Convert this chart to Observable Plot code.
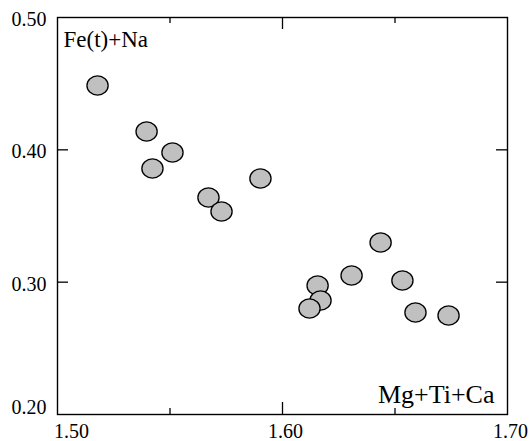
<!DOCTYPE html>
<html>
<head>
<meta charset="utf-8">
<script src="https://cdn.jsdelivr.net/npm/d3@7"></script>
<script src="https://cdn.jsdelivr.net/npm/@observablehq/plot@0.6"></script>
<style>
  html, body { margin: 0; padding: 0; background: #fff; }
  #chart svg { display: block; }
</style>
</head>
<body>
<div id="chart"></div>
<script>
// Data
const xValues = [1.5178, 1.5396, 1.5422, 1.5511, 1.5671, 1.5729, 1.5902, 1.6156, 1.6169, 1.6120, 1.6307, 1.6436, 1.6533, 1.6591, 1.6738];
const yValues = [0.4486, 0.4139, 0.3859, 0.3980, 0.3640, 0.3534, 0.3783, 0.2975, 0.2861, 0.2801, 0.3050, 0.3300, 0.3013, 0.2771, 0.2748];
const xMajorTicks = [1.60];
const xMinorTicks = [1.55, 1.65];
const yTicks = [0.30, 0.40];
const xTickLabels = [1.50, 1.60, 1.70];
const yTickLabels = [0.20, 0.30, 0.40, 0.50];
const xLabel = "Mg+Ti+Ca";
const yLabel = "Fe(t)+Na";

const points = xValues.map((x, i) => ({x, y: yValues[i]}));

const W = 530, H = 441;
const mL = 57, mR = 23, mT = 17, mB = 27;
const innerW = W - mL - mR, innerH = H - mT - mB;

const ellipse = {
  draw(context, size) {
    const r = Math.sqrt(size / Math.PI);
    const rx = r * 1.06, ry = r * 0.96;
    const k = 0.5522847498;
    context.moveTo(rx, 0);
    context.bezierCurveTo(rx, ry * k, rx * k, ry, 0, ry);
    context.bezierCurveTo(-rx * k, ry, -rx, ry * k, -rx, 0);
    context.bezierCurveTo(-rx, -ry * k, -rx * k, -ry, 0, -ry);
    context.bezierCurveTo(rx * k, -ry, rx, -ry * k, rx, 0);
    context.closePath();
  }
};

const fmt = d3.format(".2f");
const font = "'Liberation Serif', 'Times New Roman', serif";

const chart = Plot.plot({
  width: W,
  height: H,
  marginLeft: mL,
  marginRight: mR,
  marginTop: mT,
  marginBottom: mB,
  style: {fontFamily: font, color: "#000", background: "#fff"},
  x: {domain: [1.5, 1.7], axis: null},
  y: {domain: [0.2, 0.5], axis: null},
  marks: [
    // inward ticks
    Plot.tickX(xMajorTicks, {x: d => d, insetTop: innerH - 12, stroke: "#000", strokeWidth: 1.3}),
    Plot.tickX(xMajorTicks, {x: d => d, insetBottom: innerH - 12, stroke: "#000", strokeWidth: 1.3}),
    Plot.tickX(xMinorTicks, {x: d => d, insetTop: innerH - 6, stroke: "#000", strokeWidth: 1.3}),
    Plot.tickX(xMinorTicks, {x: d => d, insetBottom: innerH - 6, stroke: "#000", strokeWidth: 1.3}),
    Plot.tickY(yTicks, {y: d => d, insetRight: innerW - 11, stroke: "#000", strokeWidth: 1.3}),
    Plot.tickY(yTicks, {y: d => d, insetLeft: innerW - 11, stroke: "#000", strokeWidth: 1.3}),
    Plot.frame({stroke: "#000", strokeWidth: 1.4}),
    // tick labels
    Plot.axisX([xTickLabels[0]], {anchor: "bottom", label: null, tickSize: 0, tickPadding: 9, dx: 14, tickFormat: fmt, fontSize: 20, fill: "#000"}),
    Plot.axisX(xTickLabels.slice(1), {anchor: "bottom", label: null, tickSize: 0, tickPadding: 9, dx: 3, tickFormat: fmt, fontSize: 20, fill: "#000"}),
    Plot.axisY([yTickLabels[0]], {anchor: "left", label: null, tickSize: 0, tickPadding: 11, dy: -7, tickFormat: fmt, fontSize: 20, fill: "#000"}),
    Plot.axisY(yTickLabels.slice(1), {anchor: "left", label: null, tickSize: 0, tickPadding: 11, dy: 2, tickFormat: fmt, fontSize: 20, fill: "#000"}),
    // axis titles inside the frame
    Plot.text([yLabel], {frameAnchor: "top-left", textAnchor: "start", lineAnchor: "top", dx: 6, dy: 13, fontSize: 23, fill: "#000"}),
    Plot.text([xLabel], {frameAnchor: "bottom-right", textAnchor: "end", lineAnchor: "bottom", dx: -13, dy: -12, fontSize: 26, fill: "#000"}),
    // data points
    Plot.dot(points, {x: "x", y: "y", r: 10, symbol: ellipse, fill: "#c0c0c0", stroke: "#000", strokeWidth: 1.3})
  ]
});

document.getElementById("chart").appendChild(chart);
</script>
</body>
</html>
